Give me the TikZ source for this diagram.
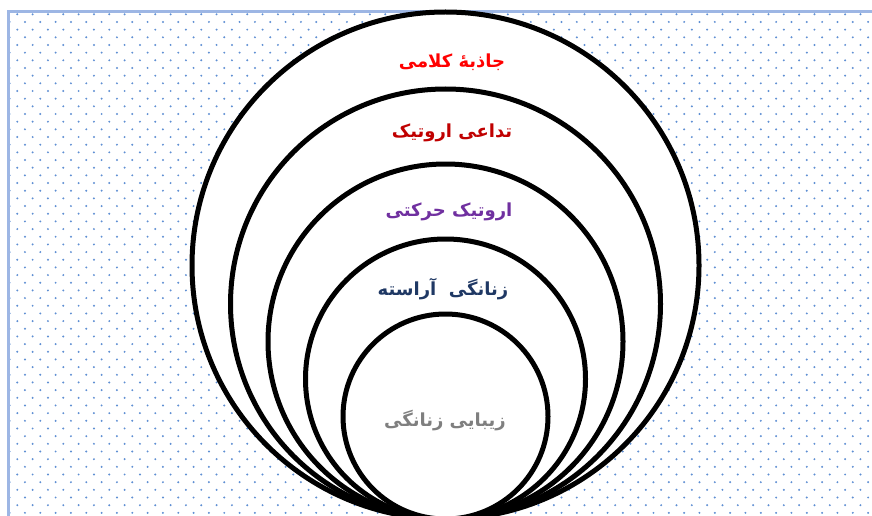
\documentclass[tikz,border=0pt]{standalone}
\usepackage{fontspec}
\newfontfamily\arabicfont[Script=Arabic]{DejaVu Sans}
\TeXXeTstate=1
\definecolor{dotblue}{HTML}{5F8FD3}
\definecolor{framblue}{HTML}{9DB6E4}
\definecolor{lblred}{HTML}{FF0000}
\definecolor{lbldarkred}{HTML}{C00000}
\definecolor{lblpurple}{HTML}{7030A0}
\definecolor{lblnavy}{HTML}{1F3864}
\definecolor{lblgray}{HTML}{7F7F7F}
\tikzset{
  ring/.style={circle, draw=black, line width=5pt, fill=white, inner sep=0pt, outer sep=0pt},
  lbl/.style={font=\arabicfont\bfseries\fontsize{18}{21}\selectfont, inner sep=0pt},
  frameline/.style={draw=framblue, line width=3pt}
}
\begin{document}
\begin{tikzpicture}[x=1pt,y=-1pt]
\useasboundingbox (0,0) rectangle (872,516);
\fill[white] (0,0) rectangle (872,516);
% dotted background
\begin{scope}
\clip (9.5,13.5) rectangle (872,516);
\foreach \j in {0,...,66}{
  \pgfmathsetmacro{\yy}{14.3+7.67*\j}
  \pgfmathsetmacro{\off}{mod(\j,2)*7.67}
  \foreach \i in {0,...,57}{
    \fill[dotblue] ({17.3+15.33*\i-\off},\yy) circle (1.1pt);
  }
}
\end{scope}
% frame
\coordinate (fa) at (8,516);
\coordinate (fb) at (8,12);
\coordinate (fc) at (872,12);
\draw[frameline] (fa) -- (fb) -- (fc);
% nested circles, all touching at the bottom
\node[ring, minimum size=507pt] (c1) at (445.5,265.5) {};
\node[ring, minimum size=430pt] (c2) at (445.5,304) {};
\node[ring, minimum size=355pt] (c3) at (445.5,341.5) {};
\node[ring, minimum size=280pt] (c4) at (445.5,379) {};
\node[ring, minimum size=205pt] (c5) at (445.5,416.5) {};
% labels
\node[lbl, text=lblred] (t1) at (452,62) {\beginR جاذبهٔ کلامی\endR};
\node[lbl, text=lbldarkred] (t2) at (452,133) {\beginR تداعی اروتیک\endR};
\node[lbl, text=lblpurple] (t3) at (449,212) {\beginR اروتیک حرکتی\endR};
\node[lbl, text=lblnavy] (t4) at (443,289) {\beginR زنانگی~~آراسته\endR};
\node[lbl, text=lblgray] (t5) at (445,421) {\beginR زیبایی زنانگی\endR};
\end{tikzpicture}
\end{document}
